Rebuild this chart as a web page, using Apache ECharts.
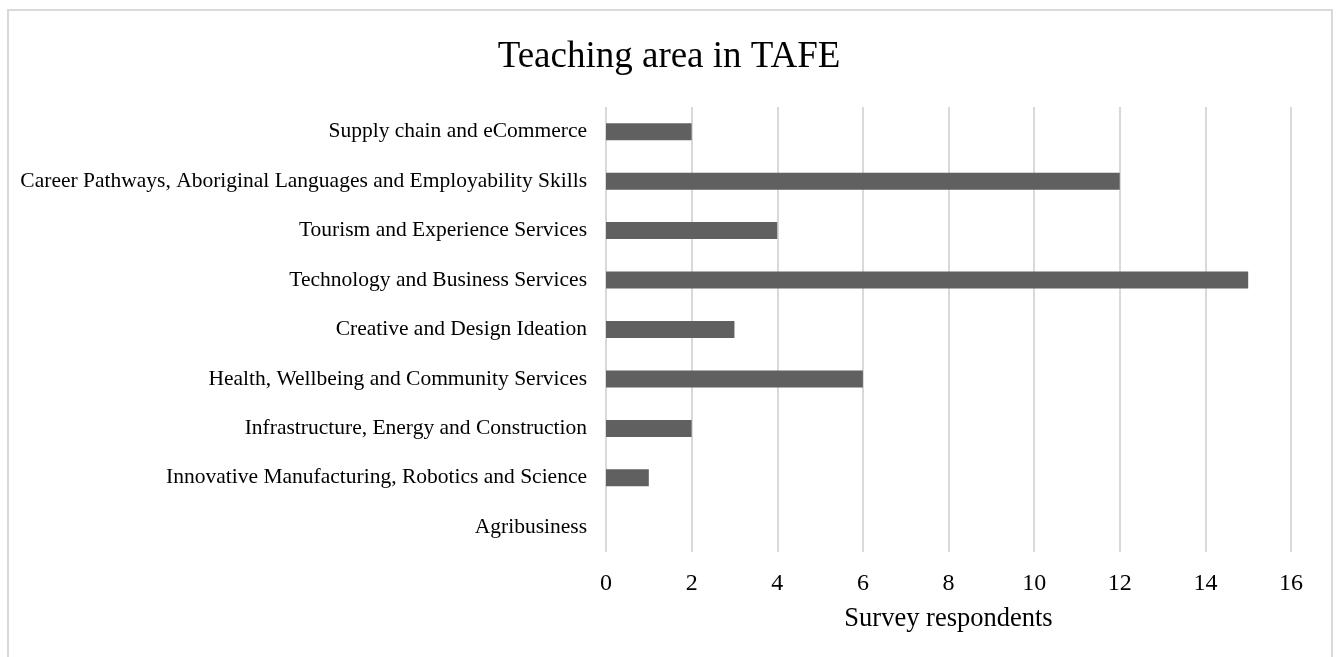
<!DOCTYPE html>
<html>
<head>
<meta charset="utf-8">
<script src="https://cdn.jsdelivr.net/npm/echarts@6/dist/echarts.min.js"></script>
<style>
  html, body { margin: 0; padding: 0; background: #ffffff; }
  #chart { width: 1338px; height: 657px; }
</style>
</head>
<body>
<div id="chart"></div>
<script>
// Teaching areas, listed top to bottom
const categories = [
  'Supply chain and eCommerce',
  'Career Pathways, Aboriginal Languages and Employability Skills',
  'Tourism and Experience Services',
  'Technology and Business Services',
  'Creative and Design Ideation',
  'Health, Wellbeing and Community Services',
  'Infrastructure, Energy and Construction',
  'Innovative Manufacturing, Robotics and Science',
  'Agribusiness'
];
// Number of survey respondents per area
const respondents = [2, 12, 4, 15, 3, 6, 2, 1, 0];

const titleText = 'Teaching area in TAFE';
const axisName = 'Survey respondents';

const serif = '"Liberation Serif", "Times New Roman", serif';

const chart = echarts.init(document.getElementById('chart'), null, { renderer: 'canvas' });

chart.setOption({
  backgroundColor: '#ffffff',
  animation: false,
  title: {
    text: titleText,
    left: 'center',
    top: 34,
    textStyle: { fontFamily: serif, fontSize: 37, fontWeight: 'normal', color: '#000000' }
  },
  graphic: [{
    type: 'rect',
    shape: { x: 8, y: 10, width: 1324, height: 700 },
    style: { fill: 'none', stroke: '#d9d9d9', lineWidth: 2 },
    silent: true
  }],
  grid: { left: 606, right: 47, top: 107, bottom: 105, containLabel: false },
  xAxis: {
    type: 'value',
    min: 0,
    max: 16,
    interval: 2,
    name: axisName,
    nameLocation: 'middle',
    nameGap: 54,
    nameTextStyle: { fontFamily: serif, fontSize: 26.5, color: '#000000' },
    axisLine: { show: false },
    axisTick: { show: false },
    axisLabel: { fontFamily: serif, fontSize: 24, color: '#000000', margin: 20 },
    splitLine: { show: true, lineStyle: { color: '#d9d9d9', width: 2 } }
  },
  yAxis: {
    type: 'category',
    data: categories,
    inverse: true,
    axisLine: { show: false },
    axisTick: { show: false },
    axisLabel: { fontFamily: serif, fontSize: 21.5, color: '#000000', margin: 19 },
    splitLine: { show: false }
  },
  series: [{
    type: 'bar',
    data: respondents,
    barWidth: 17,
    itemStyle: { color: '#606060' }
  }]
});
</script>
</body>
</html>
